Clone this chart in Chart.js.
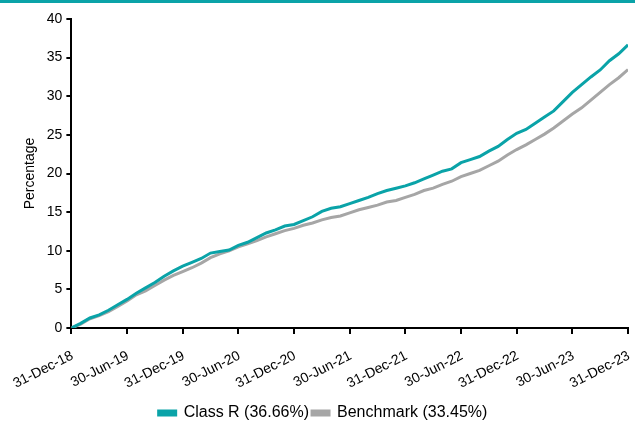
<!DOCTYPE html>
<html>
<head>
<meta charset="utf-8">
<script src="https://cdn.jsdelivr.net/npm/chart.js@4.4.0/dist/chart.umd.min.js"></script>
<style>
    html, body { margin: 0; padding: 0; background: #fff; }
    .topbar { position: absolute; left: 0; top: 0; width: 635px; height: 3px; background: #0aa3a8; }
    .wrap { position: absolute; left: 0; top: 0; width: 635px; height: 421px; }
</style>
</head>
<body>
<div class="topbar"></div>
<div class="wrap"><canvas id="chart-perf"></canvas></div>
<script>
// Half-year tick labels (every 6 months)
const tickLabels = ['31-Dec-18', '30-Jun-19', '31-Dec-19', '30-Jun-20', '31-Dec-20', '30-Jun-21',
    '31-Dec-21', '30-Jun-22', '31-Dec-22', '30-Jun-23', '31-Dec-23'];

// Monthly cumulative returns (%), Dec-18 .. Dec-23
const classR = [0, 0.6, 1.3, 1.7, 2.3, 3.0, 3.7, 4.5, 5.2, 5.9, 6.7, 7.4, 8.0, 8.5, 9.0, 9.7, 9.9, 10.1,
    10.7, 11.1, 11.7, 12.3, 12.7, 13.2, 13.4, 13.9, 14.4, 15.1, 15.5, 15.7, 16.1, 16.5, 16.9, 17.4, 17.8, 18.1,
    18.4, 18.8, 19.3, 19.8, 20.3, 20.6, 21.4, 21.8, 22.2, 22.9, 23.5, 24.4, 25.2, 25.7, 26.5, 27.3, 28.1, 29.3,
    30.5, 31.5, 32.5, 33.4, 34.6, 35.5, 36.66];
const benchmark = [0, 0.5, 1.2, 1.6, 2.1, 2.8, 3.5, 4.3, 4.8, 5.5, 6.2, 6.8, 7.3, 7.8, 8.4, 9.1, 9.6, 10.0,
    10.5, 10.9, 11.3, 11.8, 12.2, 12.6, 12.9, 13.3, 13.6, 14.0, 14.3, 14.5, 14.9, 15.3, 15.6, 15.9, 16.3, 16.5,
    16.9, 17.3, 17.8, 18.1, 18.6, 19.0, 19.6, 20.0, 20.4, 21.0, 21.6, 22.4, 23.1, 23.7, 24.4, 25.1, 25.9, 26.8,
    27.7, 28.5, 29.5, 30.5, 31.5, 32.4, 33.45];

const seriesNames = ['Class R (36.66%)', 'Benchmark (33.45%)'];
const TEAL = '#0aa3a8';
const GREY = '#a6a6a6';
const FONT = "Arimo, 'Liberation Sans', Arial, sans-serif";

Chart.defaults.font.family = FONT;
Chart.defaults.color = '#000';

const toPoints = arr => arr.map((v, i) => ({ x: i, y: v }));

// rotated date labels under the x axis (one every 6 months)
const dateLabels = {
    id: 'dateLabels',
    afterDraw(chart) {
        const sx = chart.scales.x;
        const c = chart.ctx;
        c.save();
        c.font = '14px ' + FONT;
        c.fillStyle = '#000';
        c.textAlign = 'right';
        c.textBaseline = 'middle';
        tickLabels.forEach((lab, i) => {
            c.save();
            c.translate(sx.getPixelForValue(i * 6) + 1, sx.top + 27);
            c.rotate(-27 * Math.PI / 180);
            c.fillText(lab, 0, 0);
            c.restore();
        });
        c.restore();
    }
};

const ctx = document.getElementById('chart-perf').getContext('2d');
new Chart(ctx, {
    type: 'line',
    data: {
        datasets: [
            { label: seriesNames[0], data: toPoints(classR), borderColor: TEAL, backgroundColor: TEAL,
              borderWidth: 3, pointRadius: 0, tension: 0 },
            { label: seriesNames[1], data: toPoints(benchmark), borderColor: GREY, backgroundColor: GREY,
              borderWidth: 3, pointRadius: 0, tension: 0 },
        ]
    },
    plugins: [dateLabels],
    options: {
        responsive: true,
        maintainAspectRatio: false,
        animation: false,
        layout: { padding: { top: 19, right: 7, left: 18, bottom: -10 } },
        plugins: {
            legend: {
                position: 'bottom',
                labels: { font: { size: 16 }, boxWidth: 17, boxHeight: 4, padding: 3 },
            },
            tooltip: { enabled: false },
        },
        scales: {
            x: {
                type: 'linear',
                min: 0, max: 60,
                ticks: { stepSize: 6, display: false },
                grid: { drawOnChartArea: false, color: '#000', tickLength: 6, lineWidth: 2 },
                border: { color: '#000', width: 2 },
                afterFit: scale => { scale.height = 74; },
            },
            y: {
                min: 0, max: 40,
                ticks: { stepSize: 5, font: { size: 14 }, padding: 4 },
                grid: { drawOnChartArea: false, color: '#000', tickLength: 5, lineWidth: 2 },
                border: { color: '#000', width: 2 },
                title: { display: true, text: 'Percentage', font: { size: 14 }, padding: 4 },
            }
        }
    }
});
</script>
</body>
</html>
